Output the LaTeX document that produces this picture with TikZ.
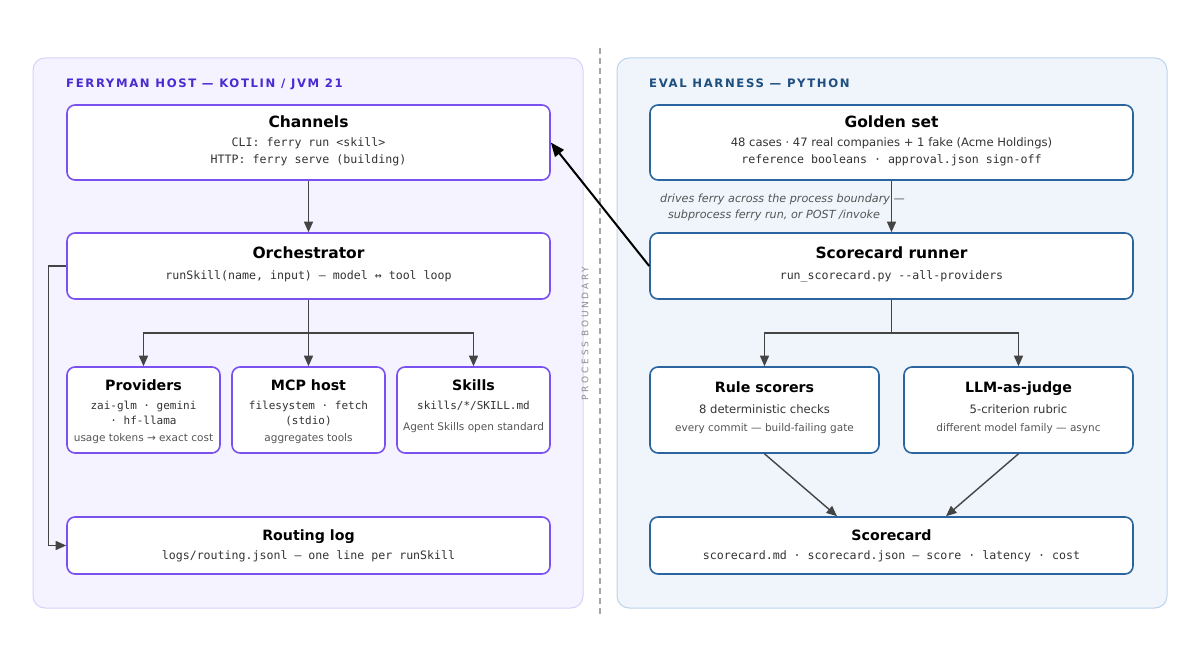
\documentclass[tikz,border=0pt]{standalone}
\usepackage{fontspec}
\setmainfont{DejaVu Sans}
\setmonofont{DejaVu Sans Mono}
\newfontfamily\lblfont[LetterSpace=14]{DejaVu Sans}
\newfontfamily\pbfont[LetterSpace=30]{DejaVu Sans}
\usetikzlibrary{arrows.meta}
\definecolor{lpanel}{HTML}{F5F3FF}
\definecolor{lpanelb}{HTML}{D9D1FA}
\definecolor{lbord}{HTML}{7A50F0}
\definecolor{llbl}{HTML}{4B2AD0}
\definecolor{rpanel}{HTML}{EFF5FB}
\definecolor{rpanelb}{HTML}{BCD5ED}
\definecolor{rbord}{HTML}{2A65A0}
\definecolor{rlbl}{HTML}{1E4F7F}
\definecolor{arrc}{HTML}{444444}
\definecolor{bodyc}{HTML}{333333}
\definecolor{smallc}{HTML}{555555}
\newcommand\fTitle{\bfseries\fontsize{15.5}{18}\selectfont}
\newcommand\fTitleS{\bfseries\fontsize{14.2}{17}\selectfont}
\newcommand\fBody{\fontsize{11.6}{14}\selectfont}
\newcommand\fMono{\ttfamily\fontsize{11.6}{14}\selectfont}
\newcommand\fMonoS{\ttfamily\fontsize{11}{13}\selectfont}
\newcommand\fSmall{\fontsize{10.5}{13}\selectfont}
\tikzset{
  panel/.style={rounded corners=12pt, line width=1pt},
  lbox/.style={draw=lbord, fill=white, line width=1.6pt, rounded corners=8pt, inner sep=0pt},
  rbox/.style={draw=rbord, fill=white, line width=1.6pt, rounded corners=8pt, inner sep=0pt},
  txt/.style={inner sep=0pt, anchor=base},
  ttl/.style={txt, font=\fTitle, text=black},
  ttls/.style={txt, font=\fTitleS, text=black},
  body/.style={txt, font=\fBody, text=bodyc},
  mono/.style={txt, font=\fMono, text=bodyc},
  monos/.style={txt, font=\fMonoS, text=bodyc},
  small/.style={txt, font=\fSmall, text=smallc},
  note/.style={txt, font=\itshape\fontsize{11.2}{14}\selectfont, text=smallc},
  arr/.style={draw=arrc, line width=1.4pt, -{Triangle[length=10.5pt,width=9pt]}},
}
\begin{document}
\begin{tikzpicture}[x=1pt,y=-1pt]
\useasboundingbox (0,0) rectangle (1200,650);
% panels
\fill[white] (0,0) rectangle (1200,650);
\draw[panel, fill=lpanel, draw=lpanelb] (33,58) rectangle (583,608);
\draw[panel, fill=rpanel, draw=rpanelb] (617,58) rectangle (1167,608);
\draw[draw=black!35, line width=1.5pt, dash pattern=on 6pt off 4pt] (600,48) -- (600,615);
\node[inner sep=0pt, rotate=90, text=black!45, font=\pbfont\fontsize{9}{11}\selectfont] (pb) at (585,333.5) {PROCESS BOUNDARY};
\node[inner sep=0pt, anchor=base west, text=llbl, font=\lblfont\bfseries\fontsize{11.66}{14}\selectfont] (llab) at (66,87.3) {FERRYMAN HOST — KOTLIN / JVM 21};
\node[inner sep=0pt, anchor=base west, text=rlbl, font=\lblfont\bfseries\fontsize{11.66}{14}\selectfont] (rlab) at (649,87.3) {EVAL HARNESS — PYTHON};

% left boxes
\node[lbox, minimum width=483pt, minimum height=75pt] (chan) at (308.5,142.5) {};
\node[ttl] (chanT) at (308.5,127.5) {Channels};
\node[mono] (chan1) at (308.5,146.7) {CLI: ferry run <skill>};
\node[mono] (chan2) at (308.5,163.3) {HTTP: ferry serve (building)};

\node[lbox, minimum width=483pt, minimum height=66pt] (orch) at (308.5,266) {};
\node[ttl] (orchT) at (308.5,258.3) {Orchestrator};
\node[mono] (orch1) at (308.5,279.3) {runSkill(name, input) — model ↔ tool loop};

\node[lbox, minimum width=153pt, minimum height=86pt] (prov) at (143.5,410) {};
\node[ttls] (provT) at (143.5,390.7) {Providers};
\node[monos] (prov1) at (143.5,409.5) {zai-glm · gemini};
\node[monos] (prov2) at (143.5,424.5) {· hf-llama};
\node[small] (prov3) at (143.5,441.5) {usage tokens → exact cost};

\node[lbox, minimum width=153pt, minimum height=86pt] (mcp) at (308.5,410) {};
\node[ttls] (mcpT) at (308.5,390.7) {MCP host};
\node[monos] (mcp1) at (308.5,409.5) {filesystem · fetch};
\node[monos] (mcp2) at (308.5,424.5) {(stdio)};
\node[small] (mcp3) at (308.5,441.5) {aggregates tools};

\node[lbox, minimum width=153pt, minimum height=86pt] (skills) at (473.5,410) {};
\node[ttls] (skT) at (473.5,390.7) {Skills};
\node[monos] (sk1) at (473.5,409.5) {skills/*/SKILL.md};
\node[small] (sk2) at (473.5,430) {Agent Skills open standard};

\node[lbox, minimum width=483pt, minimum height=57pt] (rlog) at (308.5,545.5) {};
\node[ttls] (rlogT) at (308.5,540) {Routing log};
\node[mono] (rlog1) at (308.5,559) {logs/routing.jsonl — one line per runSkill};

% right boxes
\node[rbox, minimum width=483pt, minimum height=75pt] (gold) at (891.5,142.5) {};
\node[ttl] (goldT) at (891.5,127.5) {Golden set};
\node[body] (gold1) at (891.5,146.7) {48 cases · 47 real companies + 1 fake (Acme Holdings)};
\node[mono] (gold2) at (891.5,163.3) {reference booleans · approval.json sign-off};

\node[rbox, minimum width=483pt, minimum height=66pt] (runner) at (891.5,266) {};
\node[ttl] (runT) at (891.5,258.3) {Scorecard runner};
\node[mono] (run1) at (891.5,279.3) {run\_scorecard.py --all-providers};

\node[rbox, minimum width=229pt, minimum height=86pt] (rule) at (764.5,410) {};
\node[ttls] (ruleT) at (764.5,392) {Rule scorers};
\node[body] (rule1) at (764.5,413.7) {8 deterministic checks};
\node[small] (rule2) at (764.5,431.7) {every commit — build-failing gate};

\node[rbox, minimum width=229pt, minimum height=86pt] (llm) at (1018.5,410) {};
\node[ttls] (llmT) at (1018.5,392) {LLM-as-judge};
\node[body] (llm1) at (1018.5,413.7) {5-criterion rubric};
\node[small] (llm2) at (1018.5,431.7) {different model family — async};

\node[rbox, minimum width=483pt, minimum height=57pt] (score) at (891.5,545.5) {};
\node[ttls] (scoreT) at (891.5,540) {Scorecard};
\node[mono] (score1) at (891.5,559) {scorecard.md · scorecard.json — score · latency · cost};

% connectors left
\draw[arr] (chan.south) -- (orch.north);
\coordinate (ob) at (308.5,333);
\draw[arrc, line width=1.4pt] (orch.south) -- (ob);
\draw[arr] (ob) -| (prov.north);
\draw[arr] (ob) -- (mcp.north);
\draw[arr] (ob) -| (skills.north);
\draw[arr] (orch.west) -- ++(-18,0) |- (rlog.west);

% connectors right
\draw[arr] (gold.south) -- (runner.north);
\node[note] (drv1) at (782.5,202.7) {drives ferry across the process boundary —};
\node[note] (drv2) at (774,218.3) {subprocess ferry run, or POST /invoke};
\coordinate (rb) at (891.5,333);
\draw[arrc, line width=1.4pt] (runner.south) -- (rb);
\draw[arr] (rb) -| (rule.north);
\draw[arr] (rb) -| (llm.north);
\draw[arr] (rule.south) -- ([xshift=-54.5pt]score.north);
\draw[arr] (llm.south) -- ([xshift=54.5pt]score.north);

% cross-boundary arrow
\draw[black, line width=2pt, -{Triangle[length=14pt,width=11pt]}] (runner.west) -- (chan.east);
\end{tikzpicture}
\end{document}
